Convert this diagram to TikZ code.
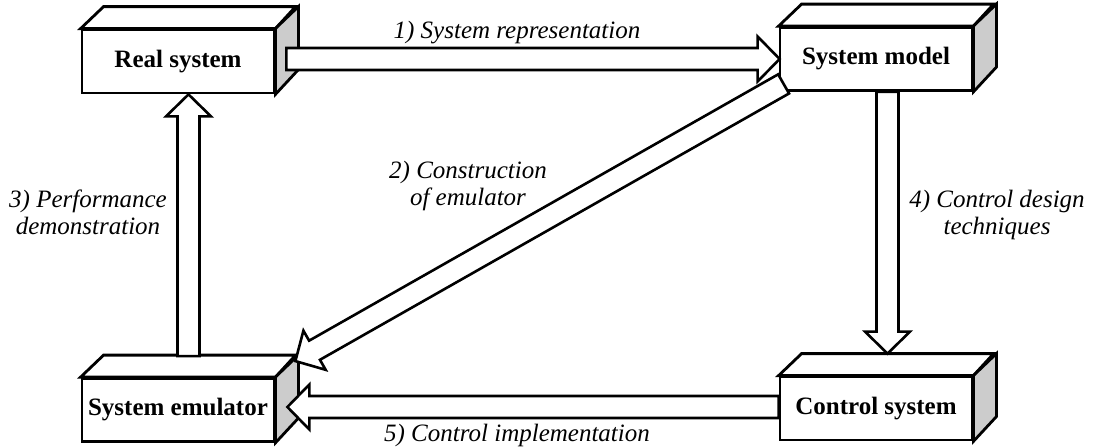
\documentclass[tikz,border=0pt]{standalone}
\usepackage{fontspec}
\setmainfont{Liberation Serif}
\usetikzlibrary{calc}
\newcommand\blkarrow[2]{%
  \coordinate (bkh) at ($(#2)!22pt!(#1)$);
  \draw[blockarr] ($(#1)!11pt!-90:(#2)$) -- ($(bkh)!11pt!90:(#1)$) -- ($(bkh)!22.5pt!90:(#1)$) -- (#2) -- ($(bkh)!22.5pt!-90:(#1)$) -- ($(bkh)!11pt!-90:(#1)$) -- ($(#1)!11pt!90:(#2)$) -- cycle;}
\newcommand\cuboid[1]{%
  \draw[cubeface] (#1.north west) -- ++(23,-22) -- ++(192,0) -- (#1.north east) -- cycle;
  \draw[cubeface, fill=black!20] (#1.north east) -- ++(23,-22) -- ++(0,63) -- (#1.south east) -- cycle;}
\begin{document}
\begin{tikzpicture}[x=1pt,y=-1pt,line join=miter,
  box/.style={draw, line width=2.8pt, fill=white, minimum width=192pt, minimum height=63pt, inner sep=0pt, font=\fontsize{25}{27}\selectfont\bfseries},
  cubeface/.style={draw, line width=2.8pt, fill=white},
  blockarr/.style={draw, line width=2.6pt, fill=white},
  lbl/.style={font=\fontsize{25}{27}\selectfont\itshape, align=center, inner sep=0pt, anchor=base}]
\useasboundingbox (0,0) rectangle (1096,447);
% boxes
\node[box] (real) at (178,61.5) {Real system};
\cuboid{real}
\node[box] (model) at (876,59) {System model};
\cuboid{model}
\node[box] (emu) at (178,410) {System emulator};
\cuboid{emu}
\node[box] (ctrl) at (876,408.5) {Control system};
\cuboid{ctrl}
% arrow end points
\coordinate (a1t) at ($(real.east)+(11,-2.5)$);
\coordinate (a1h) at ($(model.west)+(1,0)$);
\coordinate (a2t) at ($(model.south west)+(5,-8)$);
\coordinate (a2h) at ($(emu.north east)+(20,-16)$);
\coordinate (a3t) at ($(emu.north)+(10.5,-21)$);
\coordinate (a3h) at ($(real.south)+(10.5,0)$);
\coordinate (a4t) at ($(model.south)+(11.5,0)$);
\coordinate (a4h) at ($(ctrl.north)+(11.5,-22)$);
\coordinate (a5t) at ($(ctrl.west)+(0,-1.5)$);
\coordinate (a5h) at ($(emu.east)+(12,-3)$);
% arrows
\blkarrow{a1t}{a1h}
\blkarrow{a2t}{a2h}
\blkarrow{a3t}{a3h}
\blkarrow{a4t}{a4h}
\blkarrow{a5t}{a5h}
% labels (base = baseline of last line)
\node[lbl] (l1) at (517,38) {1) System representation};
\node[lbl] (l2) at (468,205) {2) Construction\\of emulator};
\node[lbl] (l3) at (88,234) {3) Performance\\demonstration};
\node[lbl] (l4) at (997,234) {4) Control design\\techniques};
\node[lbl] (l5) at (517,441) {5) Control implementation};
\end{tikzpicture}
\end{document}
